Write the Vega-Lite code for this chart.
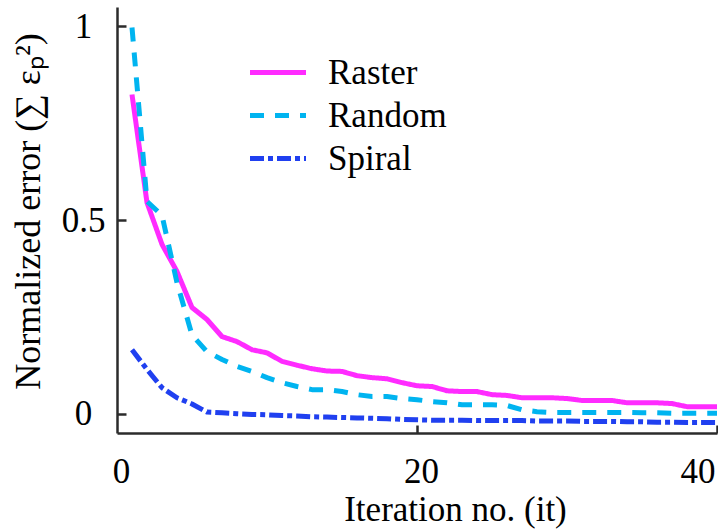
{
  "$schema": "https://vega.github.io/schema/vega-lite/v6.json",
  "width": 600,
  "height": 426,
  "autosize": "none",
  "padding": {"left": 117, "top": 7, "right": 1, "bottom": 99},
  "background": "white",
  "config": {
    "view": {"stroke": null},
    "font": "Liberation Serif",
    "axis": {
      "domainColor": "#2b2b2b",
      "domainWidth": 2.5,
      "tickColor": "#2b2b2b",
      "tickWidth": 2.5,
      "grid": false,
      "labelFont": "Liberation Serif",
      "labelFontSize": 35,
      "labelColor": "black",
      "titleFont": "Liberation Serif",
      "titleFontSize": 35,
      "titleFontWeight": "normal",
      "titleColor": "black"
    },
    "legend": {
      "labelFont": "Liberation Serif",
      "labelFontSize": 35,
      "labelColor": "black"
    }
  },
  "data": {
    "values": [
      {"it": 1, "method": "Raster", "err": 0.824},
      {"it": 2, "method": "Raster", "err": 0.545},
      {"it": 3, "method": "Raster", "err": 0.437},
      {"it": 4, "method": "Raster", "err": 0.367},
      {"it": 5, "method": "Raster", "err": 0.274},
      {"it": 6, "method": "Raster", "err": 0.243},
      {"it": 7, "method": "Raster", "err": 0.199},
      {"it": 8, "method": "Raster", "err": 0.186},
      {"it": 9, "method": "Raster", "err": 0.165},
      {"it": 10, "method": "Raster", "err": 0.157},
      {"it": 11, "method": "Raster", "err": 0.135},
      {"it": 12, "method": "Raster", "err": 0.125},
      {"it": 13, "method": "Raster", "err": 0.116},
      {"it": 14, "method": "Raster", "err": 0.110},
      {"it": 15, "method": "Raster", "err": 0.109},
      {"it": 16, "method": "Raster", "err": 0.098},
      {"it": 17, "method": "Raster", "err": 0.093},
      {"it": 18, "method": "Raster", "err": 0.090},
      {"it": 19, "method": "Raster", "err": 0.080},
      {"it": 20, "method": "Raster", "err": 0.072},
      {"it": 21, "method": "Raster", "err": 0.070},
      {"it": 22, "method": "Raster", "err": 0.059},
      {"it": 23, "method": "Raster", "err": 0.057},
      {"it": 24, "method": "Raster", "err": 0.057},
      {"it": 25, "method": "Raster", "err": 0.049},
      {"it": 26, "method": "Raster", "err": 0.047},
      {"it": 27, "method": "Raster", "err": 0.041},
      {"it": 28, "method": "Raster", "err": 0.041},
      {"it": 29, "method": "Raster", "err": 0.041},
      {"it": 30, "method": "Raster", "err": 0.039},
      {"it": 31, "method": "Raster", "err": 0.034},
      {"it": 32, "method": "Raster", "err": 0.034},
      {"it": 33, "method": "Raster", "err": 0.034},
      {"it": 34, "method": "Raster", "err": 0.028},
      {"it": 35, "method": "Raster", "err": 0.028},
      {"it": 36, "method": "Raster", "err": 0.028},
      {"it": 37, "method": "Raster", "err": 0.026},
      {"it": 38, "method": "Raster", "err": 0.018},
      {"it": 39, "method": "Raster", "err": 0.018},
      {"it": 40, "method": "Raster", "err": 0.018},
      {"it": 1, "method": "Random", "err": 0.997},
      {"it": 2, "method": "Random", "err": 0.548},
      {"it": 3, "method": "Random", "err": 0.512},
      {"it": 4, "method": "Random", "err": 0.338},
      {"it": 5, "method": "Random", "err": 0.203},
      {"it": 6, "method": "Random", "err": 0.160},
      {"it": 7, "method": "Random", "err": 0.140},
      {"it": 8, "method": "Random", "err": 0.122},
      {"it": 9, "method": "Random", "err": 0.109},
      {"it": 10, "method": "Random", "err": 0.093},
      {"it": 11, "method": "Random", "err": 0.080},
      {"it": 12, "method": "Random", "err": 0.070},
      {"it": 13, "method": "Random", "err": 0.062},
      {"it": 14, "method": "Random", "err": 0.062},
      {"it": 15, "method": "Random", "err": 0.057},
      {"it": 16, "method": "Random", "err": 0.049},
      {"it": 17, "method": "Random", "err": 0.044},
      {"it": 18, "method": "Random", "err": 0.044},
      {"it": 19, "method": "Random", "err": 0.039},
      {"it": 20, "method": "Random", "err": 0.036},
      {"it": 21, "method": "Random", "err": 0.031},
      {"it": 22, "method": "Random", "err": 0.028},
      {"it": 23, "method": "Random", "err": 0.023},
      {"it": 24, "method": "Random", "err": 0.023},
      {"it": 25, "method": "Random", "err": 0.023},
      {"it": 26, "method": "Random", "err": 0.021},
      {"it": 27, "method": "Random", "err": 0.010},
      {"it": 28, "method": "Random", "err": 0.005},
      {"it": 29, "method": "Random", "err": 0.003},
      {"it": 30, "method": "Random", "err": 0.003},
      {"it": 31, "method": "Random", "err": 0.003},
      {"it": 32, "method": "Random", "err": 0.003},
      {"it": 33, "method": "Random", "err": 0.003},
      {"it": 34, "method": "Random", "err": 0.003},
      {"it": 35, "method": "Random", "err": 0.002},
      {"it": 36, "method": "Random", "err": 0.002},
      {"it": 37, "method": "Random", "err": 0.001},
      {"it": 38, "method": "Random", "err": 0.001},
      {"it": 39, "method": "Random", "err": 0.001},
      {"it": 40, "method": "Random", "err": 0.001},
      {"it": 1, "method": "Spiral", "err": 0.165},
      {"it": 2, "method": "Spiral", "err": 0.114},
      {"it": 3, "method": "Spiral", "err": 0.067},
      {"it": 4, "method": "Spiral", "err": 0.041},
      {"it": 5, "method": "Spiral", "err": 0.025},
      {"it": 6, "method": "Spiral", "err": 0.004},
      {"it": 7, "method": "Spiral", "err": 0.002},
      {"it": 8, "method": "Spiral", "err": 0.000},
      {"it": 9, "method": "Spiral", "err": -0.002},
      {"it": 10, "method": "Spiral", "err": -0.003},
      {"it": 11, "method": "Spiral", "err": -0.005},
      {"it": 12, "method": "Spiral", "err": -0.006},
      {"it": 13, "method": "Spiral", "err": -0.008},
      {"it": 14, "method": "Spiral", "err": -0.009},
      {"it": 15, "method": "Spiral", "err": -0.010},
      {"it": 16, "method": "Spiral", "err": -0.011},
      {"it": 17, "method": "Spiral", "err": -0.012},
      {"it": 18, "method": "Spiral", "err": -0.013},
      {"it": 19, "method": "Spiral", "err": -0.015},
      {"it": 20, "method": "Spiral", "err": -0.016},
      {"it": 21, "method": "Spiral", "err": -0.017},
      {"it": 22, "method": "Spiral", "err": -0.017},
      {"it": 23, "method": "Spiral", "err": -0.017},
      {"it": 24, "method": "Spiral", "err": -0.018},
      {"it": 25, "method": "Spiral", "err": -0.018},
      {"it": 26, "method": "Spiral", "err": -0.018},
      {"it": 27, "method": "Spiral", "err": -0.018},
      {"it": 28, "method": "Spiral", "err": -0.019},
      {"it": 29, "method": "Spiral", "err": -0.019},
      {"it": 30, "method": "Spiral", "err": -0.019},
      {"it": 31, "method": "Spiral", "err": -0.020},
      {"it": 32, "method": "Spiral", "err": -0.020},
      {"it": 33, "method": "Spiral", "err": -0.020},
      {"it": 34, "method": "Spiral", "err": -0.021},
      {"it": 35, "method": "Spiral", "err": -0.021},
      {"it": 36, "method": "Spiral", "err": -0.022},
      {"it": 37, "method": "Spiral", "err": -0.022},
      {"it": 38, "method": "Spiral", "err": -0.023},
      {"it": 39, "method": "Spiral", "err": -0.023},
      {"it": 40, "method": "Spiral", "err": -0.023}
    ]
  },
  "layer": [
    {
      "mark": {"type": "line", "strokeWidth": 5, "clip": true, "strokeCap": "butt", "strokeJoin": "round"},
      "encoding": {
        "x": {
          "field": "it",
          "type": "quantitative",
          "scale": {"domain": [0, 40], "nice": false, "zero": false},
          "axis": {
            "orient": "bottom",
            "values": [0, 20, 40],
            "format": "d",
            "ticks": false,
            "tickSize": 0,
            "labelPadding": 21,
            "labelFlush": false,
            "labelAlign": {"condition": {"test": "datum.value == 40", "value": "right"}, "value": "center"},
            "labelOffset": {"condition": {"test": "datum.value == 40", "value": -2}, "value": 4},
            "title": "Iteration no. (it)",
            "titleX": 338,
            "titleY": 87,
            "titleAlign": "center",
            "titleBaseline": "alphabetic"
          }
        },
        "y": {
          "field": "err",
          "type": "quantitative",
          "scale": {"domain": [-0.05, 1.05], "nice": false, "zero": false},
          "axis": {
            "orient": "left",
            "values": [0, 0.5, 1],
            "format": "~g",
            "ticks": false,
            "tickSize": 0,
            "labelPadding": 34,
            "labelAlign": "center",
            "title": "Normalized error (∑ εₚ²)",
            "titleFontSize": 36,
            "titleAngle": 270,
            "titleX": -89,
            "titleY": 204,
            "titleAlign": "center",
            "titleBaseline": "middle"
          }
        },
        "color": {
          "field": "method",
          "type": "nominal",
          "sort": ["Raster", "Random", "Spiral"],
          "scale": {"domain": ["Raster", "Random", "Spiral"], "range": ["#ff2bff", "#00b4f0", "#2040f0"]},
          "legend": {
            "orient": "none",
            "legendX": 143.5,
            "legendY": 48,
            "title": null,
            "padding": 0,
            "symbolType": "M-2,0H2",
            "symbolSize": 784,
            "symbolStrokeWidth": 5,
            "labelOffset": 32.5,
            "rowPadding": 7
          }
        },
        "strokeDash": {
          "field": "method",
          "type": "nominal",
          "sort": ["Raster", "Random", "Spiral"],
          "scale": {"domain": ["Raster", "Random", "Spiral"], "range": [[1, 0], [14, 11], [14, 4, 5, 4]]},
          "legend": {
            "orient": "none",
            "legendX": 143.5,
            "legendY": 48,
            "title": null,
            "padding": 0,
            "symbolType": "M-2,0H2",
            "symbolSize": 784,
            "symbolStrokeWidth": 5,
            "labelOffset": 32.5,
            "rowPadding": 7
          }
        }
      }
    },
    {
      "mark": {"type": "point", "opacity": 0},
      "encoding": {
        "x": {
          "field": "it",
          "type": "quantitative",
          "scale": {"domain": [0, 40], "nice": false, "zero": false},
          "axis": {
            "orient": "top",
            "offset": -426,
            "values": [20, 40],
            "ticks": true,
            "tickSize": 8,
            "domain": false,
            "labels": false,
            "grid": false,
            "title": null
          }
        },
        "y": {
          "field": "err",
          "type": "quantitative",
          "scale": {"domain": [-0.05, 1.05], "nice": false, "zero": false},
          "axis": {
            "orient": "right",
            "offset": -600,
            "values": [0, 0.5, 1],
            "ticks": true,
            "tickSize": 9,
            "domain": false,
            "labels": false,
            "grid": false,
            "title": null
          }
        }
      }
    }
  ],
  "resolve": {
    "scale": {"x": "independent", "y": "independent"},
    "axis": {"x": "independent", "y": "independent"}
  }
}
